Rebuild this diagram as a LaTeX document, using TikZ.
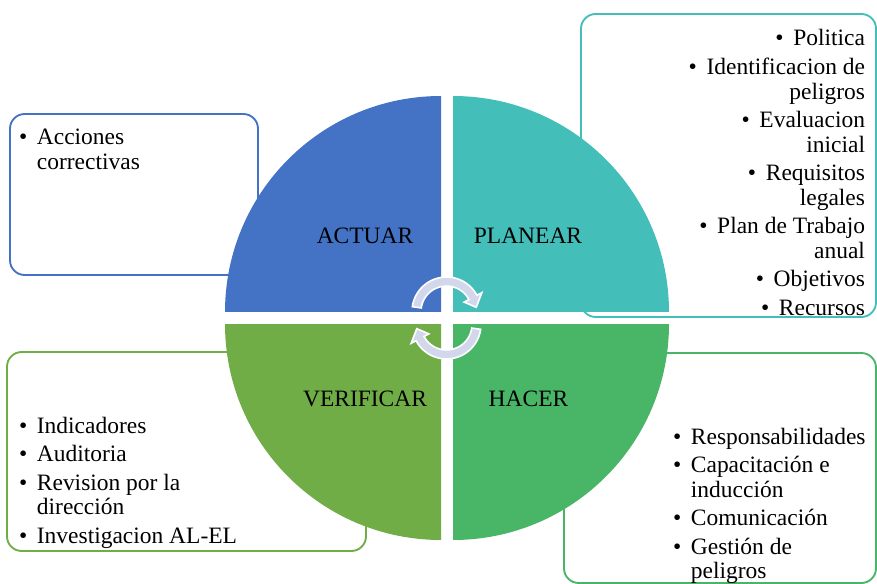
\documentclass[tikz,border=0pt]{standalone}
\usepackage{fontspec}
\setmainfont{Liberation Serif}
\usetikzlibrary{positioning,calc}
\definecolor{actblue}{HTML}{4472C4}
\definecolor{plateal}{HTML}{44BEB9}
\definecolor{hacgreen}{HTML}{48B567}
\definecolor{vergreen}{HTML}{70AD47}
\definecolor{cycfill}{HTML}{D2D7EC}
\tikzstyle{frame} = [rounded corners=11pt, line width=1.4pt, fill=white]
\tikzstyle{label} = [font=\fontsize{17.6}{18.4}\selectfont, inner sep=0pt, outer sep=0pt]
\tikzstyle{cyc} = [fill=cycfill, draw=white, line width=1.2pt]
\newcommand{\blt}{\textbullet\hspace{7.3pt}}

\begin{document}
\begin{tikzpicture}[x=0.75pt, y=-0.75pt]
    \useasboundingbox (0,0) rectangle (877,584);
    \draw[frame, draw=actblue] (10,114) rectangle (258,275);
    \draw[frame, draw=plateal] (581,14) rectangle (876,317);
    \draw[frame, draw=vergreen] (7,352) rectangle (366,551);
    \draw[frame, draw=hacgreen] (564,353) rectangle (876,583);

    \fill[actblue] (441,312) -- +(180:216) arc[start angle=180, end angle=270, radius=216] -- cycle;
    \fill[plateal] (453,312) -- +(270:216) arc[start angle=270, end angle=360, radius=216] -- cycle;
    \fill[hacgreen] (453,324) -- +(0:216) arc[start angle=0, end angle=90, radius=216] -- cycle;
    \fill[vergreen] (441,324) -- +(90:216) arc[start angle=90, end angle=180, radius=216] -- cycle;

    \coordinate (tc) at (446.5,311.5);
    \coordinate (bc) at (446.5,324.5);
    \filldraw[cyc] ($(tc)+(188:34.5)$) arc[start angle=188, end angle=332, radius=34.5]
        -- ($(tc)+(332:40)$) -- ($(tc)+(352:30)$) -- ($(tc)+(332:20)$) -- ($(tc)+(332:25.5)$)
        arc[start angle=332, end angle=188, radius=25.5] -- cycle;
    \filldraw[cyc] ($(bc)+(8:34.5)$) arc[start angle=8, end angle=152, radius=34.5]
        -- ($(bc)+(152:40)$) -- ($(bc)+(172:30)$) -- ($(bc)+(152:20)$) -- ($(bc)+(152:25.5)$)
        arc[start angle=152, end angle=8, radius=25.5] -- cycle;

    \node[label] (actuar) at (365,236) {ACTUAR};
    \node[label] (planear) at (528,236) {PLANEAR};
    \node[label] (verificar) at (365,399) {VERIFICAR};
    \node[label] (hacer) at (528.5,399) {HACER};

    \node[label, anchor=base west] (actlist) at (19,145) {\begin{tabular}[t]{@{}l@{}}
        \blt Acciones\\ \phantom{\blt}correctivas
    \end{tabular}};
    \node[label, anchor=base east] (plalist) at (865,46) {\begin{tabular}[t]{@{}r@{}}
        \blt Politica\\[3pt]
        \blt Identificacion de\\ peligros\\[3pt]
        \blt Evaluacion\\ inicial\\[3pt]
        \blt Requisitos\\ legales\\[3pt]
        \blt Plan de Trabajo\\ anual\\[3pt]
        \blt Objetivos\\[3pt]
        \blt Recursos
    \end{tabular}};
    \node[label, anchor=base west] (verlist) at (19,433) {\begin{tabular}[t]{@{}l@{}}
        \blt Indicadores\\[3pt]
        \blt Auditoria\\[3pt]
        \blt Revision por la\\ \phantom{\blt}dirección\\[3pt]
        \blt Investigacion AL-EL
    \end{tabular}};
    \node[label, anchor=base west] (haclist) at (673,444) {\begin{tabular}[t]{@{}l@{}}
        \blt Responsabilidades\\[3pt]
        \blt Capacitación e\\ \phantom{\blt}inducción\\[3pt]
        \blt Comunicación\\[3pt]
        \blt Gestión de\\ \phantom{\blt}peligros
    \end{tabular}};
\end{tikzpicture}
\end{document}
